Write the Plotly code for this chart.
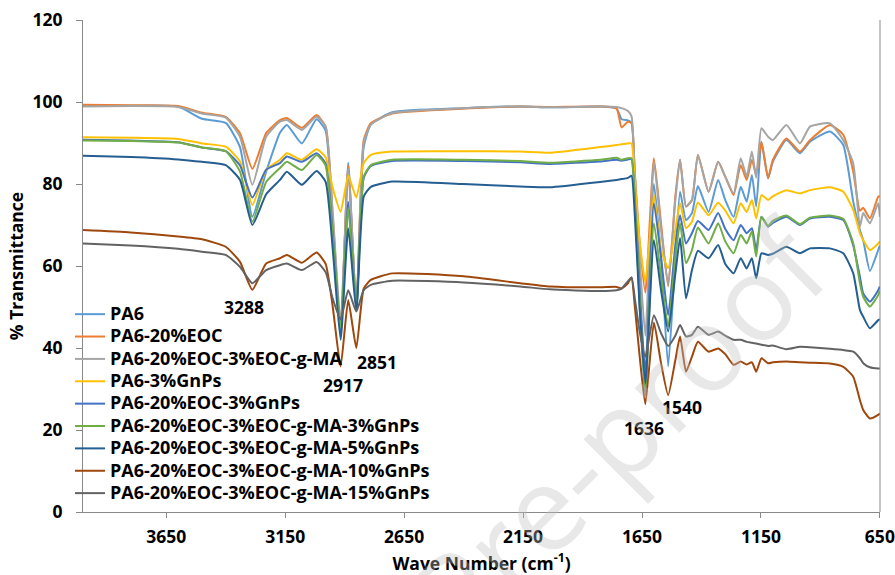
import plotly.graph_objects as go

# ---------------- data ----------------
wavenumber = [4000, 3800, 3600, 3500, 3400, 3340, 3288, 3230, 3172, 3143, 3080, 3018, 2980, 2950, 2917,
              2885, 2851, 2820, 2790, 2700, 2400, 2162, 2037, 1826, 1757, 1736, 1709, 1694, 1680, 1660,
              1636, 1600, 1570, 1540, 1510, 1490, 1465, 1440, 1415, 1370, 1330, 1300, 1265, 1235, 1210,
              1188, 1170, 1148, 1120, 1100, 1043, 986, 944, 860, 804, 762, 734, 720, 692, 657, 650]

pa6 = [99.1, 99.1, 98.9, 95.9, 94.9, 89.0, 72.0, 83.0, 92.5, 94.4, 89.9, 95.8, 93.0, 70.0, 43.0,
       85.2, 49.5, 89.0, 94.5, 97.5, 98.5, 98.9, 98.7, 98.9, 98.4, 95.8, 95.5, 95.0, 80.0, 50.0,
       28.5, 80.0, 62.3, 35.5, 62.0, 78.1, 71.2, 72.9, 79.5, 73.2, 81.0, 76.1, 72.0, 79.3, 75.7,
       82.2, 74.5, 90.3, 81.4, 85.4, 90.7, 87.5, 90.3, 92.8, 89.5, 75.7, 68.8, 66.3, 58.8, 63.9, 65.0]

pa6_eoc = [99.3, 99.2, 99.0, 97.4, 96.4, 92.4, 83.7, 92.4, 95.6, 96.1, 93.7, 96.8, 94.0, 72.0, 44.5,
           84.5, 49.5, 90.7, 94.8, 97.2, 98.4, 98.9, 98.8, 98.9, 98.4, 93.8, 95.2, 94.8, 82.7, 66.0,
           53.5, 86.3, 70.4, 55.0, 76.9, 85.9, 74.5, 76.1, 87.1, 78.1, 85.4, 81.8, 77.3, 84.6, 81.0,
           85.9, 82.2, 90.3, 81.4, 85.9, 91.1, 87.9, 90.7, 94.4, 92.0, 83.0, 73.5, 74.2, 71.6, 76.9, 77.0]

pa6_eoc_ma = [98.9, 99.0, 98.8, 97.2, 96.2, 91.5, 79.8, 91.5, 95.2, 95.6, 93.2, 96.4, 94.0, 73.0, 46.0,
              83.8, 50.0, 90.0, 94.5, 97.3, 98.5, 98.9, 98.7, 98.9, 98.8, 98.5, 97.8, 96.5, 82.0, 62.0,
              43.0, 85.4, 69.0, 55.5, 76.0, 85.9, 74.5, 76.1, 87.1, 78.1, 85.4, 81.8, 77.7, 86.3, 81.8,
              87.9, 81.5, 93.6, 91.5, 90.7, 94.4, 89.9, 94.0, 94.8, 90.7, 85.0, 69.6, 72.9, 70.4, 75.3, 72.0]

pa6_gnp3 = [91.4, 91.3, 91.0, 89.9, 89.1, 85.5, 74.9, 83.5, 85.9, 87.5, 85.9, 88.5, 86.5, 79.0, 73.2,
            82.0, 76.7, 85.1, 87.1, 87.9, 88.0, 87.9, 87.6, 89.0, 89.5, 89.7, 89.9, 89.9, 80.0, 66.0,
            56.0, 77.3, 63.9, 59.5, 68.8, 75.3, 69.2, 70.8, 75.5, 72.4, 75.4, 73.5, 70.4, 75.3, 73.2,
            76.1, 71.6, 77.3, 76.1, 77.0, 78.5, 77.7, 78.5, 79.2, 78.1, 73.7, 68.0, 66.3, 63.9, 65.5, 66.0]

pa6_eoc_gnp3 = [90.8, 90.6, 90.2, 88.9, 88.0, 84.5, 76.7, 83.5, 85.1, 86.7, 85.4, 87.5, 85.0, 68.0, 44.0,
                75.7, 50.0, 81.5, 84.4, 85.6, 85.6, 85.3, 84.9, 85.5, 85.9, 85.7, 86.0, 86.0, 76.0, 55.0,
                34.0, 75.3, 62.0, 48.0, 65.0, 72.4, 65.5, 68.0, 71.0, 68.8, 72.9, 69.0, 66.3, 70.0, 68.0,
                69.2, 63.9, 72.0, 69.6, 70.5, 72.0, 70.0, 71.6, 72.0, 71.2, 65.0, 57.4, 53.3, 51.3, 54.1, 55.0]

pa6_eoc_ma_gnp3 = [90.6, 90.5, 90.1, 88.9, 88.0, 83.0, 70.8, 80.5, 83.9, 85.4, 83.4, 87.1, 84.5, 67.0, 45.0,
                   74.1, 50.0, 81.8, 84.6, 85.9, 85.9, 85.6, 85.2, 85.9, 86.4, 85.9, 86.3, 86.3, 75.0, 52.0,
                   29.3, 70.4, 57.4, 45.2, 62.0, 70.4, 60.7, 63.9, 69.4, 65.5, 70.4, 66.0, 63.1, 67.6, 65.5,
                   68.4, 62.3, 72.0, 69.8, 71.0, 72.3, 70.2, 71.8, 72.3, 71.5, 65.5, 55.8, 52.5, 50.1, 52.9, 54.0]

pa6_eoc_ma_gnp5 = [86.9, 86.6, 86.0, 85.4, 84.6, 81.0, 70.0, 77.5, 81.0, 83.0, 79.8, 83.2, 80.5, 64.0, 42.0,
                   69.2, 49.0, 76.9, 79.3, 80.6, 80.0, 79.4, 79.2, 80.5, 81.0, 81.2, 81.5, 82.0, 72.0, 50.0,
                   31.4, 66.3, 54.1, 44.0, 58.0, 66.8, 52.1, 59.0, 63.7, 61.9, 65.1, 60.5, 58.2, 61.9, 59.4,
                   61.9, 57.0, 63.1, 62.7, 63.0, 64.7, 63.1, 64.3, 64.3, 63.1, 58.2, 49.3, 47.6, 44.8, 46.8, 47.0]

pa6_eoc_ma_gnp10 = [68.8, 68.2, 67.2, 66.5, 64.7, 61.0, 54.2, 60.6, 61.9, 62.7, 60.8, 63.3, 60.5, 50.0, 35.5,
                    51.7, 40.0, 54.5, 56.6, 58.2, 57.5, 55.8, 55.0, 54.8, 54.9, 54.5, 55.8, 57.2, 50.0, 38.0,
                    26.3, 46.2, 36.3, 28.5, 37.0, 42.8, 34.2, 37.9, 41.5, 39.1, 39.9, 38.5, 35.9, 36.7, 36.0,
                    36.5, 34.2, 37.5, 36.3, 36.5, 36.7, 36.5, 36.4, 36.2, 35.4, 33.0, 27.3, 24.9, 22.8, 23.7, 24.0]

pa6_eoc_ma_gnp15 = [65.5, 65.0, 64.2, 63.5, 62.7, 59.8, 55.8, 59.0, 60.2, 60.6, 59.0, 61.0, 58.5, 52.0, 47.0,
                    54.1, 48.9, 54.1, 55.4, 56.4, 56.0, 55.0, 54.3, 53.9, 54.1, 54.5, 56.3, 57.2, 52.0, 44.0,
                    37.9, 48.0, 43.6, 40.5, 43.0, 45.6, 42.8, 43.2, 45.2, 43.2, 44.0, 43.0, 42.0, 42.0, 41.5,
                    41.3, 41.1, 40.8, 40.5, 40.6, 39.7, 40.3, 40.2, 39.8, 39.5, 39.1, 37.5, 36.3, 35.3, 35.0, 35.0]

series_names = ["PA6", "PA6-20%EOC", "PA6-20%EOC-3%EOC-g-MA", "PA6-3%GnPs", "PA6-20%EOC-3%GnPs",
                "PA6-20%EOC-3%EOC-g-MA-3%GnPs", "PA6-20%EOC-3%EOC-g-MA-5%GnPs",
                "PA6-20%EOC-3%EOC-g-MA-10%GnPs", "PA6-20%EOC-3%EOC-g-MA-15%GnPs"]
series_values = [pa6, pa6_eoc, pa6_eoc_ma, pa6_gnp3, pa6_eoc_gnp3, pa6_eoc_ma_gnp3,
                 pa6_eoc_ma_gnp5, pa6_eoc_ma_gnp10, pa6_eoc_ma_gnp15]

x_ticks = [3650, 3150, 2650, 2150, 1650, 1150, 650]
peak_labels = ["3288", "2917", "2851", "1636", "1540"]

# ---------------- styling ----------------
colors = ["#5B9BD5", "#ED7D31", "#A5A5A5", "#FFC000", "#4472C4",
          "#70AD47", "#255E91", "#9E480E", "#636363"]
FONT = "Open Sans"
axis_grey = "#898989"

fig = go.Figure()
for name, vals, col in zip(series_names, series_values, colors):
    fig.add_trace(go.Scatter(
        x=wavenumber, y=vals, mode="lines",
        name=f'<b><span style="font-size:18px">{name}</span></b>',
        line=dict(color=col, width=2, shape="spline", smoothing=0.5),
        hoverinfo="skip"))

# peak annotations (label positions in data coordinates)
peak_pos = [(3323, 50.0), (2907, 31.0), (2764, 36.7), (1642, 20.4), (1482, 25.6)]
annotations = []
for lab, (px, py) in zip(peak_labels, peak_pos):
    annotations.append(dict(x=px, y=py, xref="x", yref="y", text=f"<b>{lab}</b>", showarrow=False,
                            font=dict(family=FONT, size=17.5, color="black")))

# watermark
annotations.append(dict(x=0.481, y=-0.142, xref="paper", yref="paper", text="Journal Pre-proof",
                        showarrow=False, textangle=-45, xanchor="center", yanchor="middle",
                        font=dict(family=FONT, size=118, color="rgba(190,190,190,0.36)")))

fig.update_layout(
    width=895, height=575,
    margin=dict(l=83, r=15, t=20, b=63),
    paper_bgcolor="white", plot_bgcolor="white",
    font=dict(family=FONT, color="black"),
    showlegend=True,
    legend=dict(x=-0.0163, y=0.435, xanchor="left", yanchor="top",
                bgcolor="rgba(0,0,0,0)", borderwidth=0,
                font=dict(family=FONT, size=14.9, color="black"),
                itemwidth=30, tracegroupgap=0),
    annotations=annotations,
    shapes=[dict(type="line", xref="paper", yref="paper", x0=1, x1=1, y0=0, y1=1,
                 line=dict(color=axis_grey, width=1))],
)

fig.update_xaxes(
    range=[4000, 649.5], tickvals=x_ticks, ticktext=[f"<b>{t}</b>" for t in x_ticks],
    automargin=False,
    showgrid=False, zeroline=False, showline=True, linecolor=axis_grey, linewidth=1,
    ticks="outside", ticklen=5, tickcolor=axis_grey, ticklabelstandoff=4,
    tickfont=dict(family=FONT, size=17.5, color="black"),
    title=dict(text="<b>Wave Number (cm<sup>-1</sup>)</b>", standoff=10,
               font=dict(family=FONT, size=17.5, color="black")))

fig.update_yaxes(
    range=[0, 120], dtick=20, tickformat="d", automargin=False,
    showgrid=False, zeroline=False, showline=True, linecolor=axis_grey, linewidth=1,
    ticks="outside", ticklen=6, tickcolor=axis_grey, ticklabelstandoff=10,
    tickprefix="<b>", ticksuffix="</b>",
    tickfont=dict(family=FONT, size=17.5, color="black"),
    title=dict(text="<b>% Transmittance</b>", standoff=4,
               font=dict(family=FONT, size=17.5, color="black")))

fig.write_html("out.html")
